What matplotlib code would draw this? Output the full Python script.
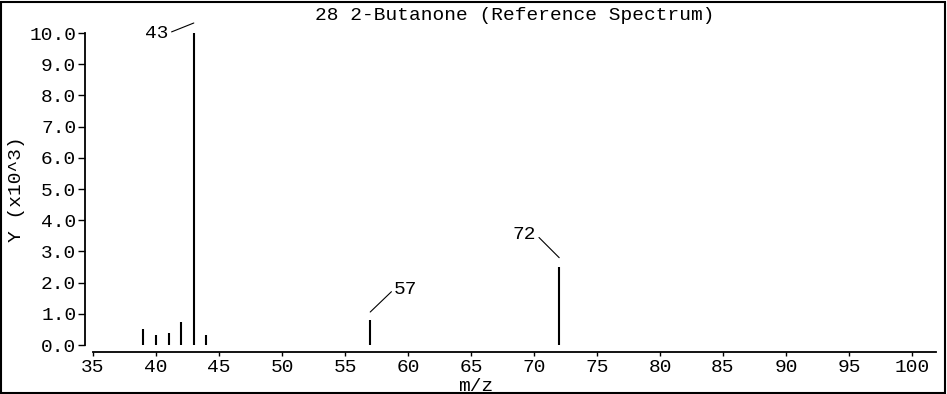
import matplotlib
matplotlib.use("Agg")
import matplotlib.pyplot as plt
from matplotlib import transforms
from matplotlib.patches import Rectangle

# Mass spectrum peaks (m/z vs intensity in units of 10^3)
mz = [39, 40, 41, 42, 43, 44, 57, 72]
intensity = [0.50, 0.32, 0.37, 0.73, 10.0, 0.32, 0.80, 2.51]

# labelled peaks
labels = ["43", "57", "72"]
label_mz = [43, 57, 72]
label_y = [10.0, 0.80, 2.51]

x_ticks = list(range(35, 101, 5))
y_ticks = [i * 1.0 for i in range(11)]

plt.rcParams['font.family'] = ['Liberation Mono', 'DejaVu Sans Mono']
FS = 14

fig = plt.figure(figsize=(9.47, 3.94), dpi=100)
ax = fig.add_axes([93 / 947, 49 / 394, (936 - 93) / 947, (345 - 33) / 394])

ax.vlines(mz, 0, intensity, colors="black", linewidth=1.5)

XMAX = 35 + (936 - 93) / 12.6
ax.set_xlim(35, XMAX)
ax.set_ylim(0, 10)
ax.set_xticks(x_ticks)
ax.set_yticks(y_ticks)
ax.set_yticklabels([f"{v:.1f}" for v in y_ticks])

for side in ("top", "right"):
    ax.spines[side].set_visible(False)
ax.spines["left"].set_position(("outward", 6))
ax.spines["bottom"].set_position(("outward", 5))
ax.spines["left"].set_bounds(0, 10)
ax.spines["bottom"].set_bounds(35, XMAX)
for side in ("left", "bottom"):
    ax.spines[side].set_linewidth(1.3)

ax.tick_params(axis="y", direction="out", length=5, width=1.0, pad=1, labelsize=FS)
ax.tick_params(axis="x", direction="out", length=3, width=1.0, pad=2, labelsize=FS)

ax.set_xlabel("m/z", fontsize=FS)
ax.xaxis.set_label_coords((476 - 93) / 843, -0.105)
ax.set_ylabel("Y (x10^3)", fontsize=FS, labelpad=3)
ax.set_title("28 2-Butanone (Reference Spectrum)", fontsize=FS, pad=9)

# peak annotations with leader lines
offsets = [(-25, -10), (24, 23), (-23, 23)]
lifts = [10, 8, 9]
aligns = ["right", "left", "right"]
for lab, x, y, off, lift, ha in zip(labels, label_mz, label_y, offsets, lifts, aligns):
    trans = transforms.offset_copy(ax.transData, fig=fig, x=0, y=lift, units="dots")
    relx = 1 if ha == "right" else 0
    ax.annotate(lab, xy=(x, y), xycoords=trans, xytext=off, textcoords="offset pixels",
                ha=ha, va="center", fontsize=FS, annotation_clip=False,
                arrowprops=dict(arrowstyle="-", color="black", lw=0.8,
                                shrinkA=0, shrinkB=0, relpos=(relx, 0.5)))

# outer frame around the whole picture
fig.patches.append(Rectangle((0.001, 0.002), 0.997, 0.994, transform=fig.transFigure,
                             fill=False, edgecolor="black", linewidth=1.5))

fig.savefig("out.png", dpi=100)
